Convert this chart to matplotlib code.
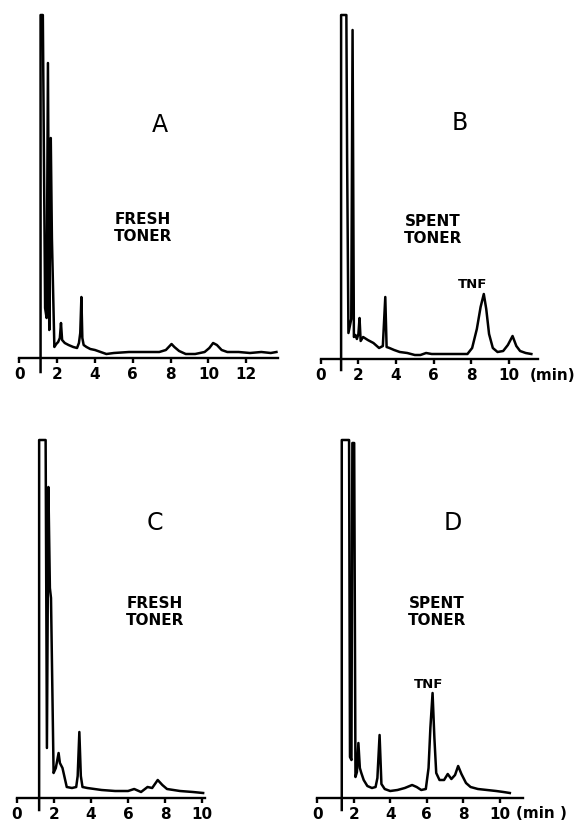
import matplotlib
matplotlib.use("Agg")
import matplotlib.pyplot as plt

W, H = 578, 827

# ---------------- data (time in min, detector response in arbitrary units) -------------
A_t = [1.12, 1.12, 1.24, 1.36, 1.44, 1.51, 1.58, 1.66, 1.72, 1.85, 1.95, 2.05, 2.14, 2.20,
       2.26, 2.40, 2.60, 2.85, 3.05, 3.15, 3.22, 3.28, 3.33, 3.40, 3.55, 3.75, 4.0, 4.3,
       4.6, 5.0, 5.8, 6.6, 7.4, 7.75, 7.95, 8.05, 8.2, 8.45, 8.8, 9.3, 9.8, 10.05, 10.25,
       10.45, 10.7, 11.0, 11.6, 12.2, 12.8, 13.3, 13.6]
A_r = [-14, 343, 343, 50, 40, 295, 28, 220, 120, 11, 14, 16, 20, 35,
       18, 15, 13, 11, 10, 15, 25, 61, 20, 13, 11, 9, 8, 6,
       4, 5, 6, 6, 6, 8, 12, 14, 11, 7, 4, 4, 6, 10, 15,
       13, 8, 6, 6, 5, 6, 5, 6]

B_t = [1.08, 1.08, 1.36, 1.40, 1.47, 1.62, 1.69, 1.76, 1.84, 1.92, 2.0, 2.06, 2.12, 2.25,
       2.5, 2.8, 3.1, 3.3, 3.43, 3.5, 3.65, 3.9, 4.2, 4.6, 5.0, 5.3, 5.6, 5.9, 6.5, 7.2,
       7.8, 8.05, 8.3, 8.5, 8.67, 8.8, 8.95, 9.15, 9.4, 9.7, 9.95, 10.2, 10.4, 10.6, 10.9, 11.2]
B_r = [-11, 344, 344, 200, 26, 40, 329, 22, 24, 20, 25, 41, 18, 22,
       19, 16, 11, 13, 62, 12, 11, 9, 7, 6, 4, 4, 6, 5, 5, 5,
       5, 11, 30, 52, 65, 50, 25, 11, 7, 8, 14, 23, 13, 8, 6, 5]

C_t = [1.20, 1.20, 1.55, 1.62, 1.70, 1.78, 1.84, 1.98, 2.10, 2.25, 2.32, 2.46, 2.69, 2.97,
       3.20, 3.28, 3.37, 3.45, 3.54, 3.80, 4.57, 5.30, 6.0, 6.33, 6.7, 7.05, 7.3, 7.6,
       7.85, 8.1, 8.8, 9.5, 10.05]
C_r = [-12, 358, 358, 50, 311, 210, 200, 25, 30, 45, 35, 30, 11, 10,
       11, 22, 66, 22, 11, 10, 8, 7, 7, 9, 6, 11, 10, 18,
       13, 9, 7, 6, 5]

D_t = [1.35, 1.35, 1.75, 1.80, 1.88, 1.93, 2.03, 2.10, 2.18, 2.26, 2.34, 2.42, 2.55, 2.75,
       3.0, 3.2, 3.3, 3.42, 3.52, 3.7, 4.0, 4.4, 4.8, 5.2, 5.45, 5.7, 5.95, 6.1, 6.2, 6.32,
       6.42, 6.52, 6.7, 6.95, 7.15, 7.35, 7.55, 7.72, 7.9, 8.15, 8.4, 8.8, 9.3, 9.8, 10.2, 10.55]
D_r = [-12, 358, 358, 41, 38, 355, 355, 21, 26, 55, 30, 25, 18, 12,
       10, 11, 20, 63, 14, 9, 7, 8, 10, 13, 11, 8, 9, 30, 70, 105,
       60, 25, 18, 18, 24, 19, 23, 32, 24, 15, 11, 9, 8, 7, 6, 5]

ticks_A = [0, 2, 4, 6, 8, 10, 12]
ticks_B = [0, 2, 4, 6, 8, 10]
ticks_C = [0, 2, 4, 6, 8, 10]
ticks_D = [0, 2, 4, 6, 8, 10]

letters = ["A", "B", "C", "D"]
samples = ["FRESH\nTONER", "SPENT\nTONER", "FRESH\nTONER", "SPENT\nTONER"]
unit_labels = [None, "(min)", None, "(min )"]
tnf_label = "TNF"

# ---------------- layout (pixel geometry of each panel) -----------------------------
# px0: pixel x of t=0, ppm: pixels per min, y0: pixel y of baseline axis
layout = [
    dict(t=A_t, r=A_r, ticks=ticks_A, px0=19.4, ppm=18.9, y0=358, xlim=(-0.8, 14.4),
         axis_end=13.68, letter=(7.44, 233), sample=(6.54, 130), unit=None, tnf=None),
    dict(t=B_t, r=B_r, ticks=ticks_B, px0=320.8, ppm=18.8, y0=359, xlim=(-0.8, 13.6),
         axis_end=11.55, letter=(7.40, 236), sample=(5.97, 129), unit=(12.35, -16),
         tnf=(8.05, 74)),
    dict(t=C_t, r=C_r, ticks=ticks_C, px0=16.9, ppm=18.53, y0=798, xlim=(-0.8, 12.0),
         axis_end=10.15, letter=(7.45, 275), sample=(7.45, 186), unit=None, tnf=None),
    dict(t=D_t, r=D_r, ticks=ticks_D, px0=317.1, ppm=18.27, y0=798, xlim=(-0.8, 13.8),
         axis_end=11.27, letter=(7.44, 275), sample=(6.56, 186), unit=(12.3, -16),
         tnf=(6.10, 113)),
]
YMIN, YMAX = -30, 365

fig = plt.figure(figsize=(W / 100, H / 100), dpi=100)
fig.patch.set_facecolor("white")

for i, p in enumerate(layout):
    x0, x1 = p["xlim"]
    left = (p["px0"] + x0 * p["ppm"]) / W
    width = (x1 - x0) * p["ppm"] / W
    bottom = (H - (p["y0"] - YMIN)) / H
    height = (YMAX - YMIN) / H
    ax = fig.add_axes([left, bottom, width, height])
    ax.set_xlim(x0, x1)
    ax.set_ylim(YMIN, YMAX)
    ax.patch.set_alpha(0)
    for s in ["top", "left", "right"]:
        ax.spines[s].set_visible(False)
    ax.spines["bottom"].set_position(("data", 0))
    ax.spines["bottom"].set_bounds(0, p["axis_end"])
    ax.spines["bottom"].set_linewidth(1.7)
    ax.set_yticks([])
    ax.set_xticks(p["ticks"])
    ax.set_xticklabels([str(v) for v in p["ticks"]], fontsize=11, fontweight="bold",
                       family="DejaVu Sans")
    ax.tick_params(axis="x", direction="out", length=3.5, width=1.7, pad=3)

    ax.plot(p["t"], p["r"], color="black", lw=1.8, solid_joinstyle="round", clip_on=False)

    ax.text(p["letter"][0], p["letter"][1], letters[i], fontsize=17, ha="center",
            va="center", family="DejaVu Sans")
    ax.text(p["sample"][0], p["sample"][1], samples[i], fontsize=11, fontweight="bold",
            ha="center", va="center", linespacing=1.2, family="DejaVu Sans")
    if p["unit"] is not None:
        ax.text(p["unit"][0], p["unit"][1], unit_labels[i], fontsize=11, fontweight="bold",
                ha="center", va="center", family="DejaVu Sans")
    if p["tnf"] is not None:
        ax.text(p["tnf"][0], p["tnf"][1], tnf_label, fontsize=9.5, fontweight="bold",
                ha="center", va="center", family="DejaVu Sans")

fig.savefig("out.png", dpi=100, facecolor="white")
